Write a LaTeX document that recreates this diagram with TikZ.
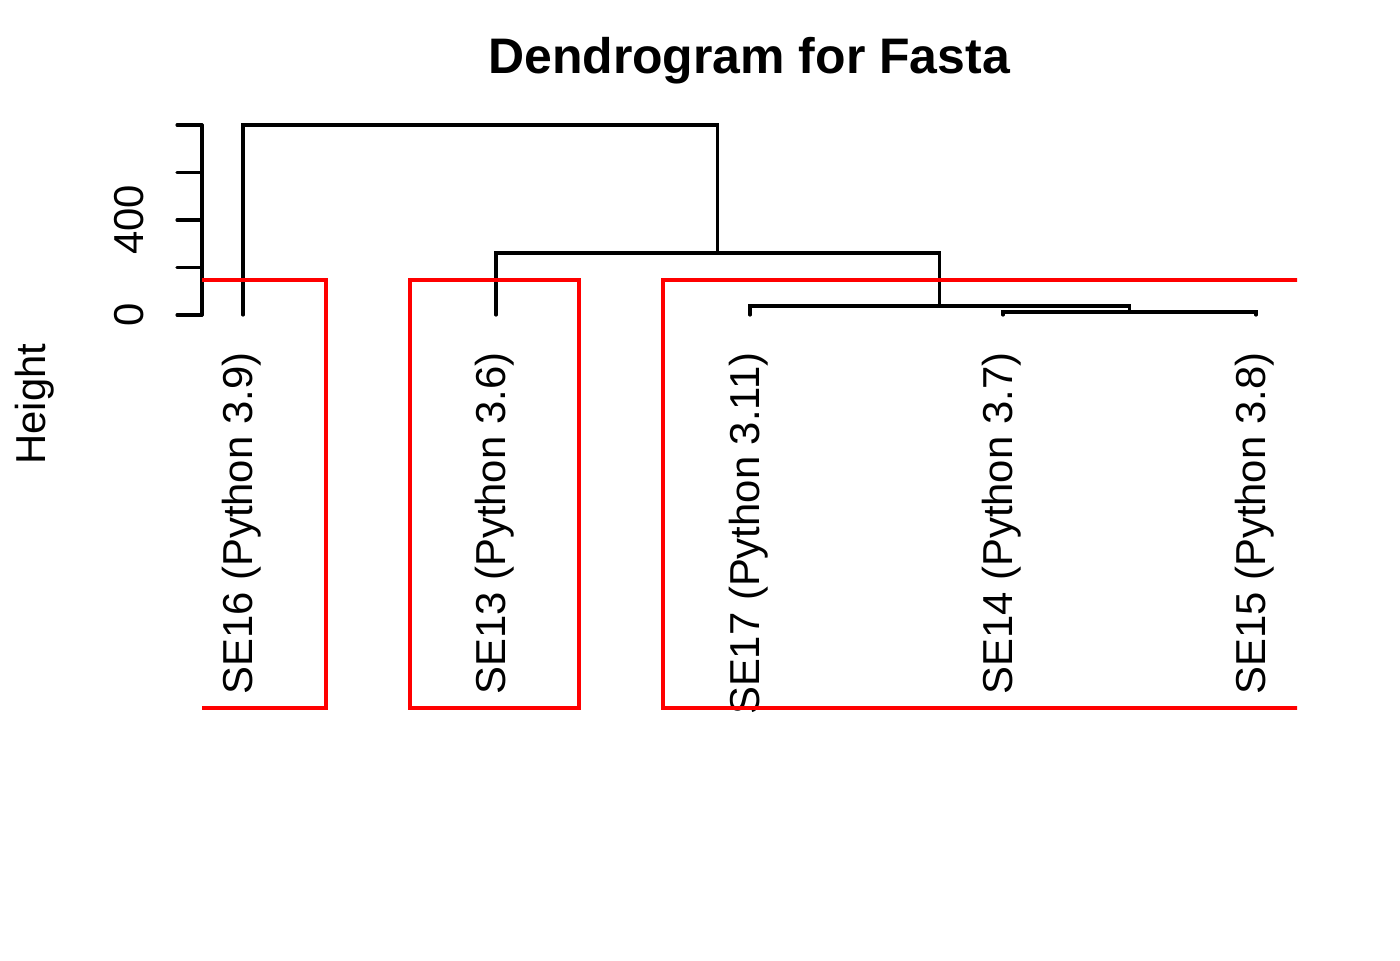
\documentclass[tikz,border=0pt]{standalone}
\usepackage{fontspec}
\setmainfont{Liberation Sans}
\tikzset{
  branch/.style={line width=0.9pt, line cap=round},
  cut/.style={line width=0.9pt, red},
  lab/.style={rotate=90, anchor=base east, inner sep=0pt, font=\fontsize{11.9}{14}\selectfont},
  axlab/.style={rotate=90, anchor=base, inner sep=0pt, font=\fontsize{11.9}{14}\selectfont}
}
\begin{document}
\begin{tikzpicture}[x=0.01cm, y=-0.01cm]
\useasboundingbox (0,0) rectangle (1400,960);
\node[anchor=base, inner sep=0pt, font=\fontsize{14.2}{17}\selectfont\bfseries] (title) at (749,73) {Dendrogram for Fasta};
\coordinate (tid0) at (243,315);
\coordinate (tid1) at (496,315);
\coordinate (tid2) at (750,315);
\coordinate (tid3) at (1003,315);
\coordinate (tid4) at (1256,315);
\coordinate (mid0) at (1129.5,312);
\coordinate (mid1) at (939.5,306);
\coordinate (mid2) at (717.5,253);
\coordinate (mid3) at (480,125);
\draw[branch] (tid3) |- (mid0) -| (tid4);
\draw[branch] (tid2) |- (mid1) -| (mid0);
\draw[branch] (tid1) |- (mid2) -| (mid1);
\draw[branch] (tid0) |- (mid3) -| (mid2);
\node[lab] (lab0) at (252,352) {SE16 (Python 3.9)};
\node[lab] (lab1) at (505,352) {SE13 (Python 3.6)};
\node[lab] (lab2) at (759,352) {SE17 (Python 3.11)};
\node[lab] (lab3) at (1012,352) {SE14 (Python 3.7)};
\node[lab] (lab4) at (1265,352) {SE15 (Python 3.8)};
\coordinate (ax0) at (202,315);
\coordinate (ax1) at (202,125);
\draw[branch] (ax0) -- (ax1);
\foreach \k in {0,...,4}
  \draw[branch] (202,315-47.5*\k) -- (177,315-47.5*\k);
\node[axlab] (tick0) at (143,315) {0};
\node[axlab] (tick2) at (143,220) {400};
\node[axlab] (ylab) at (45,404) {Height};
\begin{scope}
\clip (202,0) rectangle (1297,960);
\draw[cut] (157,280) rectangle (326,708);
\draw[cut] (410,280) rectangle (579,708);
\draw[cut] (663,280) rectangle (1340,708);
\end{scope}
\end{tikzpicture}
\end{document}
